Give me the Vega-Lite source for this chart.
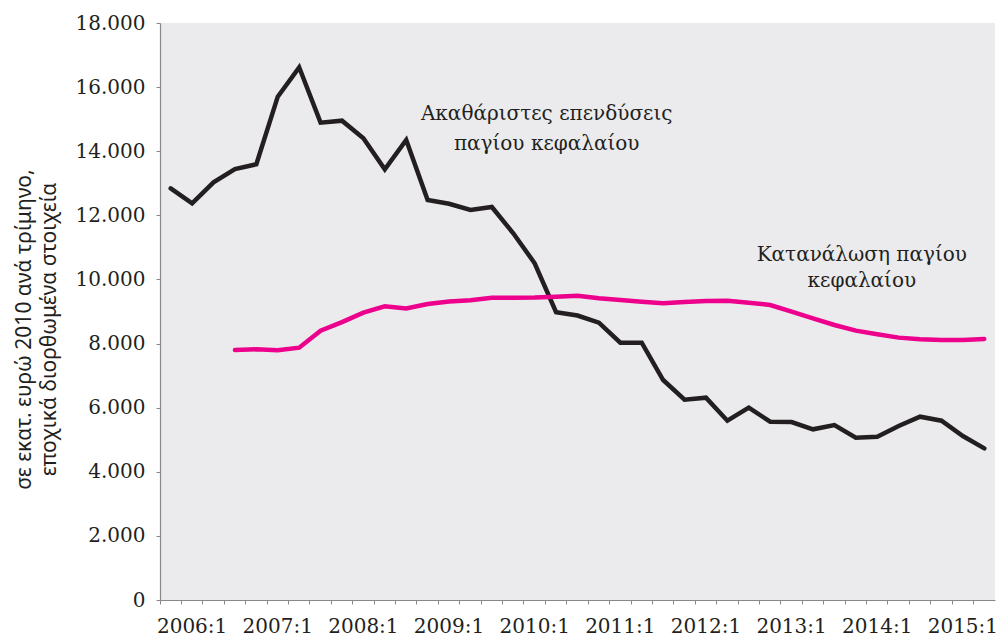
{
  "$schema": "https://vega.github.io/schema/vega-lite/v6.json",
  "width": 835,
  "height": 577,
  "autosize": {"type": "none"},
  "padding": {"left": 160, "top": 23, "right": 4, "bottom": 37},
  "background": "white",
  "config": {
    "view": {"stroke": null, "fill": "#ebebed"},
    "axis": {
      "domainColor": "#888888",
      "domainWidth": 1.2,
      "tickColor": "#888888",
      "tickSize": 4,
      "tickWidth": 1,
      "labelFont": "DejaVu Serif",
      "labelFontSize": 20,
      "labelColor": "#231f20",
      "grid": false
    }
  },
  "datasets": {
    "series": [
      {"quarter": "2005:4", "series": "Ακαθάριστες επενδύσεις παγίου κεφαλαίου", "value": 12843},
      {"quarter": "2006:1", "series": "Ακαθάριστες επενδύσεις παγίου κεφαλαίου", "value": 12375},
      {"quarter": "2006:2", "series": "Ακαθάριστες επενδύσεις παγίου κεφαλαίου", "value": 13031},
      {"quarter": "2006:3", "series": "Ακαθάριστες επενδύσεις παγίου κεφαλαίου", "value": 13445},
      {"quarter": "2006:4", "series": "Ακαθάριστες επενδύσεις παγίου κεφαλαίου", "value": 13592},
      {"quarter": "2007:1", "series": "Ακαθάριστες επενδύσεις παγίου κεφαλαίου", "value": 15702},
      {"quarter": "2007:2", "series": "Ακαθάριστες επενδύσεις παγίου κεφαλαίου", "value": 16618},
      {"quarter": "2007:3", "series": "Ακαθάριστες επενδύσεις παγίου κεφαλαίου", "value": 14891},
      {"quarter": "2007:4", "series": "Ακαθάριστες επενδύσεις παγίου κεφαλαίου", "value": 14953},
      {"quarter": "2008:1", "series": "Ακαθάριστες επενδύσεις παγίου κεφαλαίου", "value": 14403},
      {"quarter": "2008:2", "series": "Ακαθάριστες επενδύσεις παγίου κεφαλαίου", "value": 13436},
      {"quarter": "2008:3", "series": "Ακαθάριστες επενδύσεις παγίου κεφαλαίου", "value": 14350},
      {"quarter": "2008:4", "series": "Ακαθάριστες επενδύσεις παγίου κεφαλαίου", "value": 12478},
      {"quarter": "2009:1", "series": "Ακαθάριστες επενδύσεις παγίου κεφαλαίου", "value": 12360},
      {"quarter": "2009:2", "series": "Ακαθάριστες επενδύσεις παγίου κεφαλαίου", "value": 12166},
      {"quarter": "2009:3", "series": "Ακαθάριστες επενδύσεις παγίου κεφαλαίου", "value": 12260},
      {"quarter": "2009:4", "series": "Ακαθάριστες επενδύσεις παγίου κεφαλαίου", "value": 11440},
      {"quarter": "2010:1", "series": "Ακαθάριστες επενδύσεις παγίου κεφαλαίου", "value": 10504},
      {"quarter": "2010:2", "series": "Ακαθάριστες επενδύσεις παγίου κεφαλαίου", "value": 8980},
      {"quarter": "2010:3", "series": "Ακαθάριστες επενδύσεις παγίου κεφαλαίου", "value": 8875},
      {"quarter": "2010:4", "series": "Ακαθάριστες επενδύσεις παγίου κεφαλαίου", "value": 8651},
      {"quarter": "2011:1", "series": "Ακαθάριστες επενδύσεις παγίου κεφαλαίου", "value": 8027},
      {"quarter": "2011:2", "series": "Ακαθάριστες επενδύσεις παγίου κεφαλαίου", "value": 8027},
      {"quarter": "2011:3", "series": "Ακαθάριστες επενδύσεις παγίου κεφαλαίου", "value": 6863},
      {"quarter": "2011:4", "series": "Ακαθάριστες επενδύσεις παγίου κεφαλαίου", "value": 6250},
      {"quarter": "2012:1", "series": "Ακαθάριστες επενδύσεις παγίου κεφαλαίου", "value": 6311},
      {"quarter": "2012:2", "series": "Ακαθάριστες επενδύσεις παγίου κεφαλαίου", "value": 5594},
      {"quarter": "2012:3", "series": "Ακαθάριστες επενδύσεις παγίου κεφαλαίου", "value": 5999},
      {"quarter": "2012:4", "series": "Ακαθάριστες επενδύσεις παγίου κεφαλαίου", "value": 5563},
      {"quarter": "2013:1", "series": "Ακαθάριστες επενδύσεις παγίου κεφαλαίου", "value": 5553},
      {"quarter": "2013:2", "series": "Ακαθάριστες επενδύσεις παγίου κεφαλαίου", "value": 5325},
      {"quarter": "2013:3", "series": "Ακαθάριστες επενδύσεις παγίου κεφαλαίου", "value": 5459},
      {"quarter": "2013:4", "series": "Ακαθάριστες επενδύσεις παγίου κεφαλαίου", "value": 5064},
      {"quarter": "2014:1", "series": "Ακαθάριστες επενδύσεις παγίου κεφαλαίου", "value": 5095},
      {"quarter": "2014:2", "series": "Ακαθάριστες επενδύσεις παγίου κεφαλαίου", "value": 5428},
      {"quarter": "2014:3", "series": "Ακαθάριστες επενδύσεις παγίου κεφαλαίου", "value": 5719},
      {"quarter": "2014:4", "series": "Ακαθάριστες επενδύσεις παγίου κεφαλαίου", "value": 5594},
      {"quarter": "2015:1", "series": "Ακαθάριστες επενδύσεις παγίου κεφαλαίου", "value": 5116},
      {"quarter": "2015:2", "series": "Ακαθάριστες επενδύσεις παγίου κεφαλαίου", "value": 4731},
      {"quarter": "2006:3", "series": "Κατανάλωση παγίου κεφαλαίου", "value": 7799},
      {"quarter": "2006:4", "series": "Κατανάλωση παγίου κεφαλαίου", "value": 7820},
      {"quarter": "2007:1", "series": "Κατανάλωση παγίου κεφαλαίου", "value": 7795},
      {"quarter": "2007:2", "series": "Κατανάλωση παγίου κεφαλαίου", "value": 7871},
      {"quarter": "2007:3", "series": "Κατανάλωση παγίου κεφαλαίου", "value": 8402},
      {"quarter": "2007:4", "series": "Κατανάλωση παγίου κεφαλαίου", "value": 8670},
      {"quarter": "2008:1", "series": "Κατανάλωση παγίου κεφαλαίου", "value": 8964},
      {"quarter": "2008:2", "series": "Κατανάλωση παγίου κεφαλαίου", "value": 9160},
      {"quarter": "2008:3", "series": "Κατανάλωση παγίου κεφαλαίου", "value": 9095},
      {"quarter": "2008:4", "series": "Κατανάλωση παγίου κεφαλαίου", "value": 9234},
      {"quarter": "2009:1", "series": "Κατανάλωση παγίου κεφαλαίου", "value": 9310},
      {"quarter": "2009:2", "series": "Κατανάλωση παγίου κεφαλαίου", "value": 9350},
      {"quarter": "2009:3", "series": "Κατανάλωση παγίου κεφαλαίου", "value": 9430},
      {"quarter": "2009:4", "series": "Κατανάλωση παγίου κεφαλαίου", "value": 9432},
      {"quarter": "2010:1", "series": "Κατανάλωση παγίου κεφαλαίου", "value": 9435},
      {"quarter": "2010:2", "series": "Κατανάλωση παγίου κεφαλαίου", "value": 9463},
      {"quarter": "2010:3", "series": "Κατανάλωση παγίου κεφαλαίου", "value": 9494},
      {"quarter": "2010:4", "series": "Κατανάλωση παγίου κεφαλαίου", "value": 9411},
      {"quarter": "2011:1", "series": "Κατανάλωση παγίου κεφαλαίου", "value": 9359},
      {"quarter": "2011:2", "series": "Κατανάλωση παγίου κεφαλαίου", "value": 9307},
      {"quarter": "2011:3", "series": "Κατανάλωση παγίου κεφαλαίου", "value": 9255},
      {"quarter": "2011:4", "series": "Κατανάλωση παγίου κεφαλαίου", "value": 9297},
      {"quarter": "2012:1", "series": "Κατανάλωση παγίου κεφαλαίου", "value": 9328},
      {"quarter": "2012:2", "series": "Κατανάλωση παγίου κεφαλαίου", "value": 9338},
      {"quarter": "2012:3", "series": "Κατανάλωση παγίου κεφαλαίου", "value": 9276},
      {"quarter": "2012:4", "series": "Κατανάλωση παγίου κεφαλαίου", "value": 9203},
      {"quarter": "2013:1", "series": "Κατανάλωση παγίου κεφαλαίου", "value": 8995},
      {"quarter": "2013:2", "series": "Κατανάλωση παγίου κεφαλαίου", "value": 8787},
      {"quarter": "2013:3", "series": "Κατανάλωση παγίου κεφαλαίου", "value": 8579},
      {"quarter": "2013:4", "series": "Κατανάλωση παγίου κεφαλαίου", "value": 8402},
      {"quarter": "2014:1", "series": "Κατανάλωση παγίου κεφαλαίου", "value": 8289},
      {"quarter": "2014:2", "series": "Κατανάλωση παγίου κεφαλαίου", "value": 8185},
      {"quarter": "2014:3", "series": "Κατανάλωση παγίου κεφαλαίου", "value": 8133},
      {"quarter": "2014:4", "series": "Κατανάλωση παγίου κεφαλαίου", "value": 8111},
      {"quarter": "2015:1", "series": "Κατανάλωση παγίου κεφαλαίου", "value": 8111},
      {"quarter": "2015:2", "series": "Κατανάλωση παγίου κεφαλαίου", "value": 8142}
    ],
    "note1": [
      {"quarter": "2010:1", "value": 15150, "label": "Ακαθάριστες επενδύσεις\nπαγίου κεφαλαίου"}
    ],
    "note2": [
      {"quarter": "2013:4", "value": 10760, "label": "Κατανάλωση παγίου\nκεφαλαίου"}
    ]
  },
  "encoding": {
    "x": {
      "field": "quarter",
      "type": "ordinal",
      "scale": {"type": "band", "paddingInner": 0, "paddingOuter": 0},
      "bandPosition": 0.5,
      "axis": {
        "title": null,
        "bandPosition": 0,
        "labelAngle": 0,
        "labelOverlap": false,
        "labelPadding": 12,
        "labelExpr": "indexof(datum.label, ':1') > 0 ? datum.label : ''"
      }
    },
    "y": {
      "field": "value",
      "type": "quantitative",
      "scale": {"domain": [0, 18000], "nice": false, "zero": true},
      "axis": {
        "values": [0, 2000, 4000, 6000, 8000, 10000, 12000, 14000, 16000, 18000],
        "labelPadding": 11,
        "labelExpr": "replace(format(datum.value, ','), ',', '.')",
        "title": ["σε εκατ. ευρώ 2010 ανά τρίμηνο,", "εποχικά διορθωμένα στοιχεία"],
        "titleFont": "Noto Sans",
        "titleFontSize": 21,
        "titleFontWeight": "normal",
        "titleColor": "#231f20",
        "titleLineHeight": 25,
        "titleAngle": -90,
        "titleAlign": "center",
        "titleBaseline": "middle",
        "titleX": -136,
        "titleY": 306
      }
    }
  },
  "layer": [
    {
      "data": {"name": "series"},
      "mark": {"type": "line", "strokeWidth": 4.5, "strokeCap": "round", "strokeJoin": "miter"},
      "encoding": {
        "color": {
          "field": "series",
          "type": "nominal",
          "scale": {"domain": ["Ακαθάριστες επενδύσεις παγίου κεφαλαίου", "Κατανάλωση παγίου κεφαλαίου"], "range": ["#231f20", "#ec008c"]},
          "legend": null
        }
      }
    },
    {
      "data": {"name": "note1"},
      "mark": {"type": "text", "font": "DejaVu Serif", "fontSize": 20, "color": "#231f20", "align": "center", "baseline": "middle", "lineBreak": "\n", "lineHeight": 30, "dx": 12},
      "encoding": {
        "text": {"field": "label", "type": "nominal"}
      }
    },
    {
      "data": {"name": "note2"},
      "mark": {"type": "text", "font": "DejaVu Serif", "fontSize": 20, "color": "#231f20", "align": "center", "baseline": "middle", "lineBreak": "\n", "lineHeight": 26, "dx": 6},
      "encoding": {
        "text": {"field": "label", "type": "nominal"}
      }
    }
  ]
}
